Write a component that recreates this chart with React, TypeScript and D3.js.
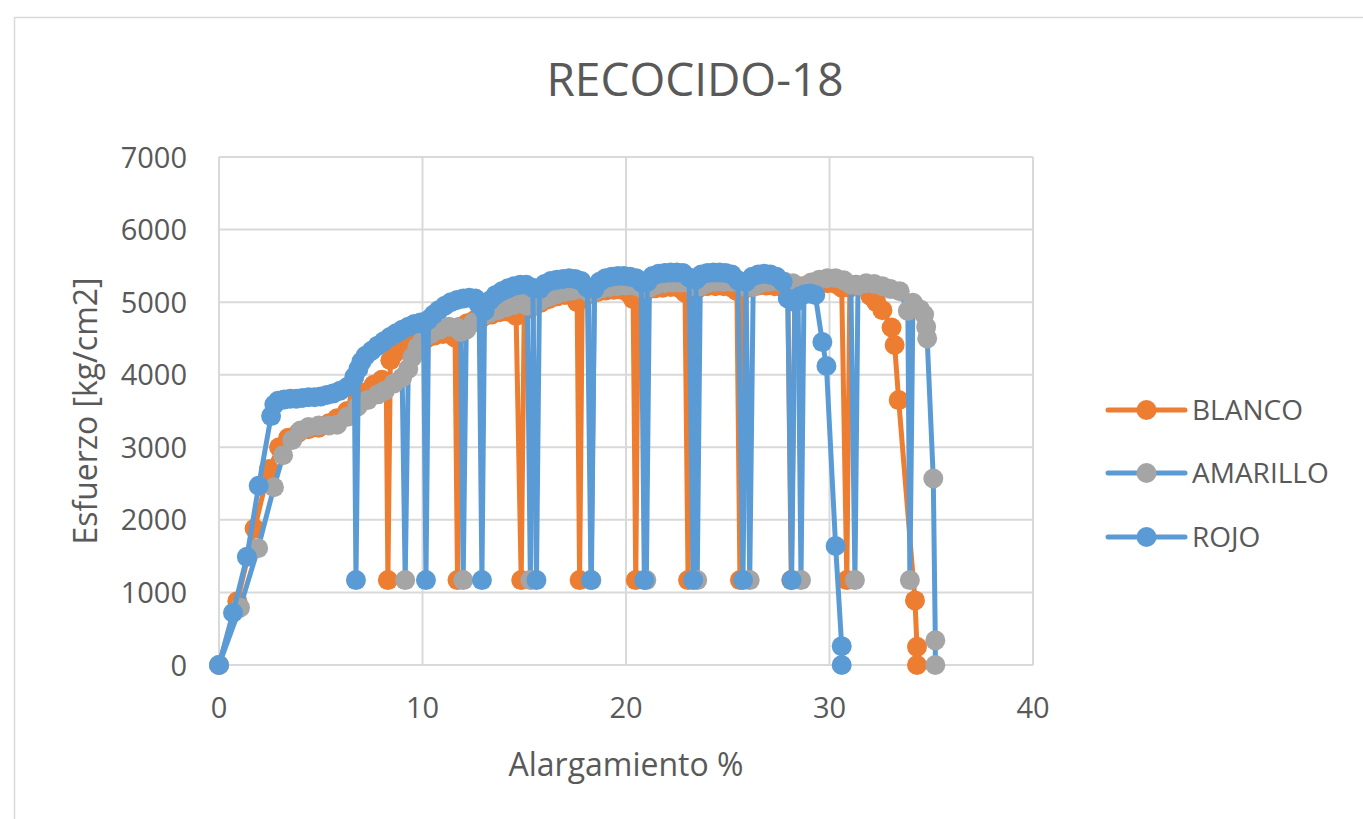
import React from "react";
import * as d3 from "d3";

// Ensayo de tracción — probetas recocidas (alargamiento %, esfuerzo kg/cm2)
const BLANCO: [number, number][] = [
  [0, 0], [0.9, 880], [1.75, 1880], [2.45, 2700], [2.95, 3000], [3.4, 3130], [3.9, 3200],
  [4.4, 3250], [4.9, 3270], [5.4, 3330], [5.8, 3400], [6.3, 3500], [6.8, 3650], [7.2, 3760],
  [7.6, 3860], [8.0, 3930], [8.22, 3880], [8.3, 1170], [8.42, 4200], [8.65, 4300], [9.0, 4380],
  [9.4, 4450], [9.8, 4480], [10.2, 4500], [10.6, 4540], [11.0, 4560], [11.35, 4560], [11.6, 4510],
  [11.72, 1170], [11.85, 4660], [12.2, 4710], [12.6, 4760], [13.0, 4800], [13.4, 4830], [13.8, 4860],
  [14.2, 4870], [14.6, 4810], [14.85, 1170], [15.0, 4880], [15.4, 4940], [15.8, 4990], [16.2, 5040],
  [16.6, 5080], [17.0, 5100], [17.35, 5090], [17.6, 5000], [17.72, 1170], [17.85, 5050], [18.2, 5110],
  [18.6, 5140], [19.0, 5160], [19.4, 5170], [19.8, 5170], [20.15, 5120], [20.35, 5040], [20.48, 1170],
  [20.6, 5110], [21.0, 5160], [21.4, 5190], [21.8, 5200], [22.2, 5210], [22.6, 5200], [22.9, 5130],
  [23.05, 1170], [23.2, 5150], [23.6, 5200], [24.0, 5220], [24.4, 5220], [24.8, 5220], [25.2, 5200],
  [25.45, 5150], [25.6, 1170], [25.75, 5170], [26.1, 5210], [26.5, 5230], [26.9, 5230], [27.3, 5220],
  [27.7, 5200], [27.95, 5150], [28.12, 1170], [28.3, 5180], [28.7, 5220], [29.1, 5240], [29.5, 5250],
  [29.9, 5260], [30.3, 5250], [30.6, 5200], [30.85, 1170], [31.0, 5200], [31.3, 5240], [31.65, 5230],
  [32.0, 5090], [32.3, 5000], [32.6, 4890], [33.05, 4650], [33.2, 4410], [33.4, 3650], [34.2, 890],
  [34.3, 250], [34.3, 0],
];

const AMARILLO: [number, number][] = [
  [0, 0], [1.03, 790], [1.92, 1610], [2.7, 2450], [3.15, 2890], [3.6, 3100], [4.0, 3230],
  [4.4, 3280], [4.9, 3300], [5.4, 3300], [5.8, 3310], [6.3, 3420], [6.8, 3560], [7.3, 3650],
  [7.8, 3730], [8.15, 3780], [8.6, 3880], [9.0, 3960], [9.15, 1170], [9.3, 4080], [9.5, 4240],
  [9.75, 4380], [10.0, 4470], [10.4, 4560], [10.85, 4620], [11.3, 4660], [11.7, 4650], [11.88, 4590],
  [12.0, 1170], [12.15, 4620], [12.5, 4720], [12.9, 4800], [13.3, 4850], [13.7, 4890], [14.1, 4930],
  [14.5, 4960], [14.9, 4980], [15.15, 4950], [15.3, 1170], [15.45, 4960], [15.8, 5020], [16.2, 5070],
  [16.6, 5110], [17.0, 5140], [17.4, 5160], [17.8, 5180], [18.15, 5140], [18.3, 1170], [18.45, 5150],
  [18.8, 5190], [19.2, 5210], [19.6, 5220], [20.0, 5230], [20.4, 5230], [20.8, 5190], [21.0, 1170],
  [21.15, 5200], [21.5, 5240], [21.9, 5260], [22.3, 5270], [22.7, 5270], [23.1, 5260], [23.35, 5220],
  [23.5, 1170], [23.65, 5220], [24.0, 5260], [24.4, 5280], [24.8, 5280], [25.2, 5280], [25.6, 5260],
  [25.9, 5210], [26.08, 1170], [26.25, 5210], [26.6, 5260], [27.0, 5280], [27.4, 5290], [27.8, 5280],
  [28.2, 5260], [28.45, 5200], [28.6, 1170], [28.75, 5220], [29.1, 5270], [29.5, 5310], [29.9, 5330],
  [30.3, 5330], [30.7, 5300], [31.05, 5240], [31.25, 1170], [31.4, 5230], [31.8, 5260], [32.2, 5250],
  [32.6, 5220], [33.0, 5180], [33.45, 5150], [33.85, 4880], [33.95, 1170], [34.1, 4990], [34.45, 4900],
  [34.65, 4830], [34.75, 4660], [34.8, 4500], [35.1, 2570], [35.2, 340], [35.2, 0],
];

const ROJO: [number, number][] = [
  [0, 0], [0.69, 720], [1.37, 1490], [1.95, 2470], [2.56, 3430], [2.72, 3590], [2.9, 3640],
  [3.2, 3660], [3.5, 3670], [3.8, 3670], [4.1, 3680], [4.4, 3690], [4.7, 3690], [5.0, 3700],
  [5.3, 3720], [5.6, 3740], [5.95, 3780], [6.3, 3830], [6.65, 3970], [6.73, 1170], [6.85, 4080],
  [7.0, 4180], [7.2, 4260], [7.5, 4330], [7.8, 4400], [8.1, 4460], [8.4, 4520], [8.7, 4570],
  [9.0, 4620], [9.3, 4660], [9.6, 4700], [9.9, 4720], [10.05, 4700], [10.17, 1170], [10.3, 4760],
  [10.55, 4830], [10.8, 4890], [11.1, 4950], [11.4, 5000], [11.7, 5030], [12.0, 5050], [12.3, 5060],
  [12.6, 5050], [12.78, 4960], [12.92, 1170], [13.05, 4880], [13.3, 5020], [13.6, 5100], [13.9, 5150],
  [14.2, 5190], [14.5, 5220], [14.8, 5240], [15.1, 5240], [15.42, 5200], [15.6, 1170], [15.75, 5180],
  [16.0, 5250], [16.3, 5290], [16.6, 5310], [16.9, 5320], [17.2, 5330], [17.5, 5320], [17.8, 5290],
  [18.1, 5200], [18.28, 1170], [18.45, 5180], [18.7, 5280], [19.0, 5330], [19.3, 5350], [19.6, 5360],
  [19.9, 5360], [20.2, 5350], [20.5, 5330], [20.75, 5270], [20.9, 1170], [21.05, 5280], [21.3, 5360],
  [21.6, 5390], [21.9, 5400], [22.2, 5410], [22.5, 5410], [22.8, 5400], [23.1, 5340], [23.3, 1170],
  [23.45, 5310], [23.7, 5380], [24.0, 5400], [24.3, 5410], [24.6, 5410], [24.9, 5400], [25.2, 5380],
  [25.5, 5300], [25.75, 1170], [25.9, 5280], [26.2, 5350], [26.5, 5380], [26.8, 5390], [27.1, 5380],
  [27.4, 5350], [27.7, 5280], [27.95, 5050], [28.14, 1170], [28.3, 5000], [28.55, 5080], [28.8, 5110],
  [29.05, 5120], [29.3, 5100], [29.65, 4450], [29.85, 4120], [30.3, 1640], [30.6, 260], [30.6, 0],
];

const X_TICKS = [0, 10, 20, 30, 40];
const Y_TICKS = [0, 1000, 2000, 3000, 4000, 5000, 6000, 7000];

const ORANGE = "#ED7D31";
const GRAY = "#A5A5A5";
const BLUE = "#5B9BD5";
const TEXT = "#595959";
const GRID = "#D9D9D9";

const SERIES = [
  { name: "BLANCO", data: BLANCO, line: ORANGE, marker: ORANGE },
  { name: "AMARILLO", data: AMARILLO, line: BLUE, marker: GRAY },
  { name: "ROJO", data: ROJO, line: BLUE, marker: BLUE },
];

const FONT = "'Open Sans', 'Noto Sans', sans-serif";

export default function App() {
  const W = 1363;
  const H = 819;
  const plot = { left: 219, right: 1033, top: 157, bottom: 665 };

  const x = d3.scaleLinear().domain([0, 40]).range([plot.left, plot.right]);
  const y = d3.scaleLinear().domain([0, 7000]).range([plot.bottom, plot.top]);

  const line = d3
    .line<[number, number]>()
    .x((d) => x(d[0]))
    .y((d) => y(d[1]));

  const R = 10;
  const SW = 5;

  const legendY = [410, 473, 537];

  return (
    <div style={{ position: "absolute", left: 0, top: 0 }}>
      <svg width={W} height={H} style={{ display: "block", background: "#fff" }} fontFamily={FONT}>
        <rect x={14.5} y={17.5} width={W + 20} height={H + 20} fill="#fff" stroke={GRID} strokeWidth={1.5} />

        <text x={695} y={96} textAnchor="middle" fontSize={46} fill={TEXT}>
          RECOCIDO-18
        </text>

        {/* gridlines */}
        {Y_TICKS.map((t) => (
          <line key={"gy" + t} x1={plot.left} x2={plot.right} y1={y(t)} y2={y(t)} stroke={GRID} strokeWidth={2} />
        ))}
        {X_TICKS.map((t) => (
          <line key={"gx" + t} x1={x(t)} x2={x(t)} y1={plot.top} y2={plot.bottom} stroke={GRID} strokeWidth={2} />
        ))}

        {/* tick labels */}
        {Y_TICKS.map((t) => (
          <text key={"ly" + t} x={187} y={y(t) + 10.5} textAnchor="end" fontSize={29} fill={TEXT}>
            {t}
          </text>
        ))}
        {X_TICKS.map((t) => (
          <text key={"lx" + t} x={x(t)} y={718} textAnchor="middle" fontSize={29} fill={TEXT}>
            {t}
          </text>
        ))}

        <text x={(plot.left + plot.right) / 2} y={776} textAnchor="middle" fontSize={32} fill={TEXT}>
          Alargamiento %
        </text>
        <text
          transform={`translate(97, ${(plot.top + plot.bottom) / 2}) rotate(-90)`}
          textAnchor="middle"
          fontSize={32}
          fill={TEXT}
        >
          Esfuerzo [kg/cm2]
        </text>

        {/* series */}
        {SERIES.map((s) => (
          <g key={s.name}>
            <path d={line(s.data) ?? ""} fill="none" stroke={s.line} strokeWidth={SW} strokeLinejoin="round" strokeLinecap="round" />
            {s.data.map((d, i) => (
              <circle key={i} cx={x(d[0])} cy={y(d[1])} r={R} fill={s.marker} />
            ))}
          </g>
        ))}

        {/* legend */}
        {SERIES.map((s, i) => (
          <g key={"lg" + s.name}>
            <line x1={1108} x2={1185} y1={legendY[i]} y2={legendY[i]} stroke={s.line} strokeWidth={SW} strokeLinecap="round" />
            <circle cx={1146.5} cy={legendY[i]} r={R} fill={s.marker} />
            <text x={1192} y={legendY[i] + 10} fontSize={28} fill={TEXT}>
              {s.name}
            </text>
          </g>
        ))}
      </svg>
    </div>
  );
}
